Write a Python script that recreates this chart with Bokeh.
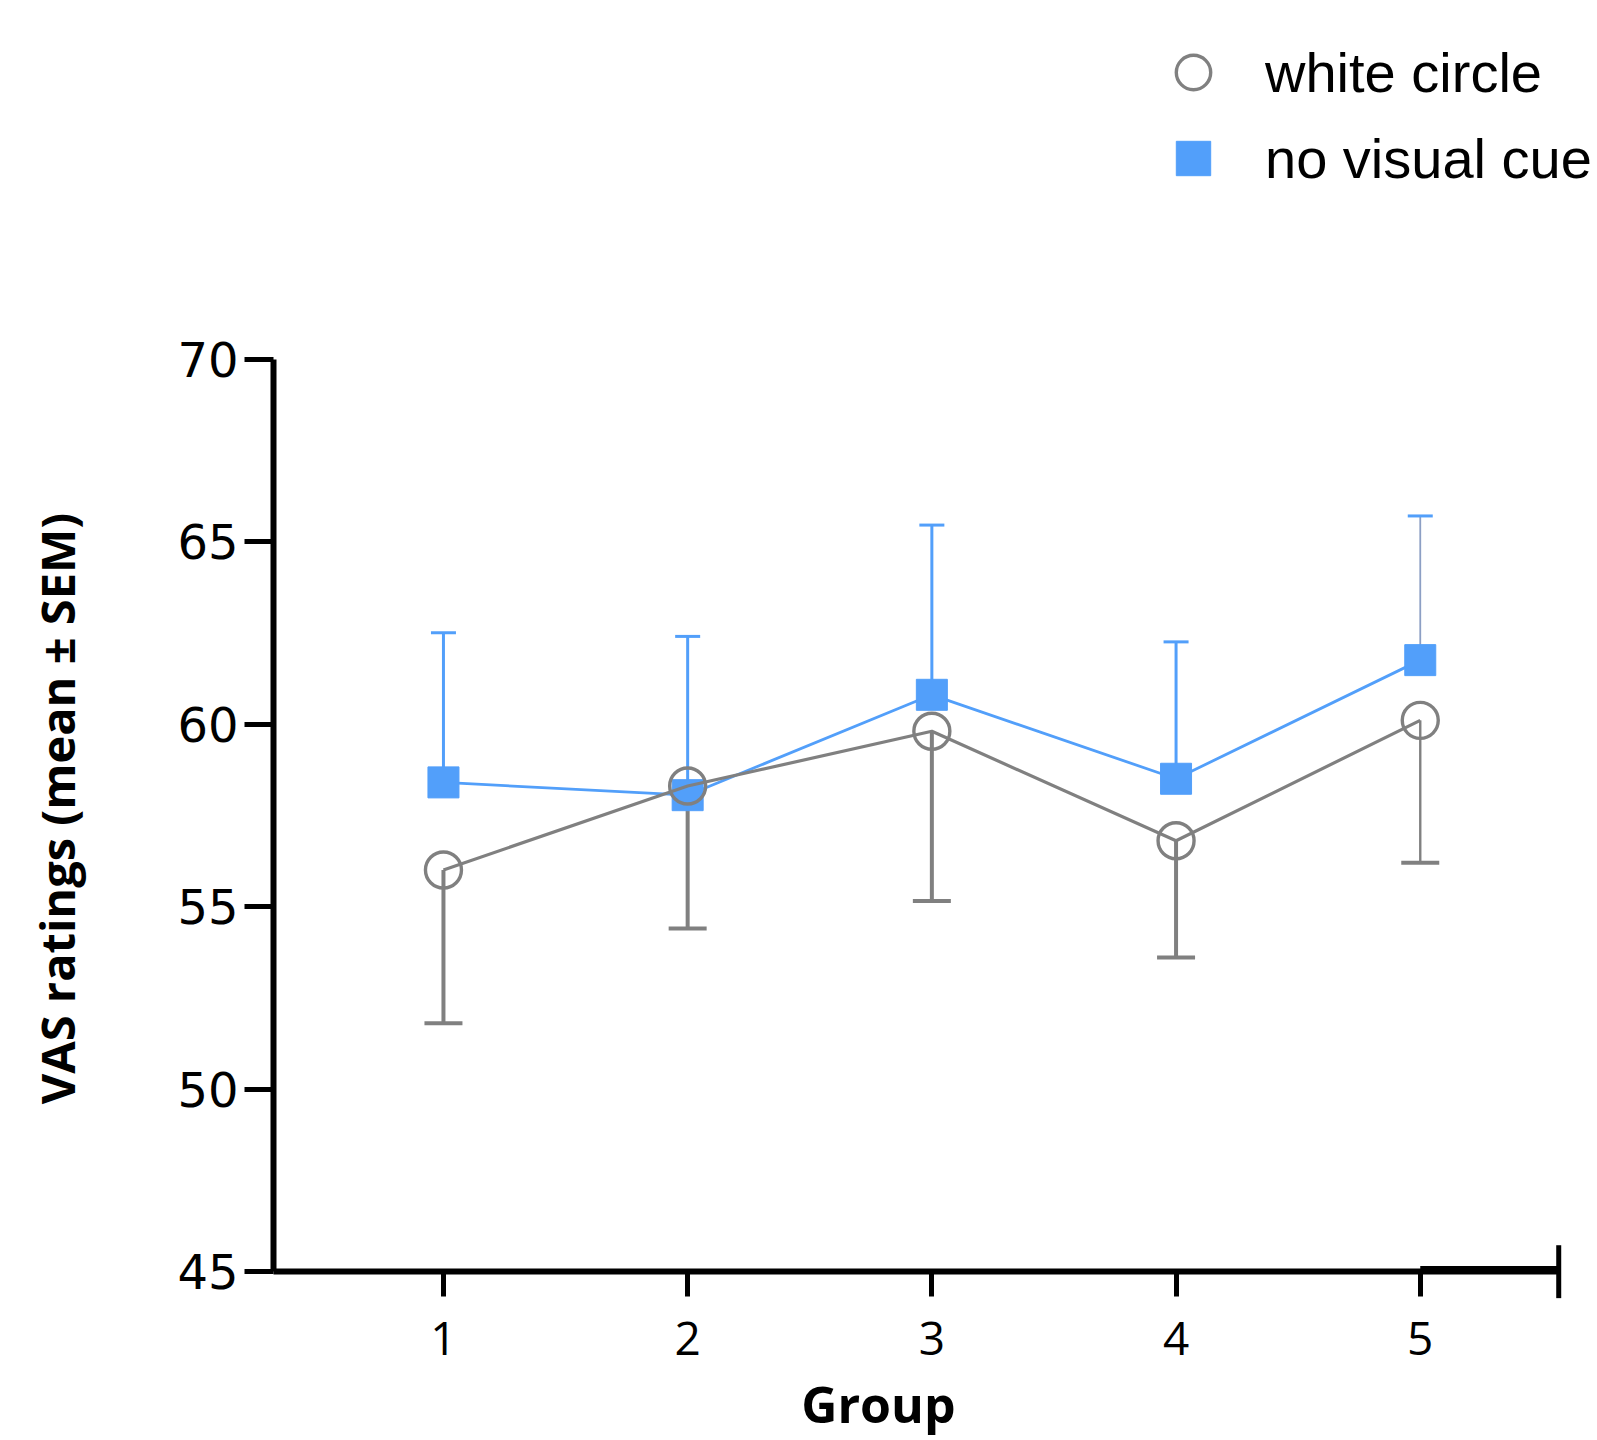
import math
from bokeh.plotting import figure
from bokeh.models import (Range1d, FixedTicker, Whisker, TeeHead, ColumnDataSource,
                          Legend, LegendItem, Label, Arrow)
from bokeh.embed import file_html
from bokeh.resources import INLINE

# ---- data ----
groups = [1, 2, 3, 4, 5]
white_mean = [56.0, 58.3, 59.8, 56.8, 60.1]
white_sem = [4.2, 3.9, 4.65, 3.2, 3.9]
blue_mean = [58.4, 58.05, 60.8, 58.5, 61.75]
blue_sem = [4.1, 4.35, 4.65, 3.75, 3.95]
y_ticks = [45, 50, 55, 60, 65, 70]
x_ticks = [1, 2, 3, 4, 5]
series_names = ["white circle", "no visual cue"]
x_title = "Group"
y_title = "VAS ratings (mean \u00b1 SEM)"

GRAY = "#808080"
BLUE = "#529ffa"

white_src = ColumnDataSource(dict(
    x=groups, mean=white_mean,
    lo=[m - s for m, s in zip(white_mean, white_sem)],
    stem_w=[4, 4, 4, 4, 2.4],
))
blue_src = ColumnDataSource(dict(
    x=groups, mean=blue_mean,
    hi=[m + s for m, s in zip(blue_mean, blue_sem)],
    stem_w=[3, 3, 3, 3, 1.8],
    stem_c=[BLUE, BLUE, BLUE, BLUE, "#8c9fc4"],
))

X0, X1 = 0.304, 5.567   # axis extents
p = figure(frame_width=1597, frame_height=1440,
           x_range=Range1d(-0.8139, 5.7258), y_range=Range1d(40.370, 79.822),
           min_border_left=0, min_border_right=0, min_border_top=0, min_border_bottom=0,
           output_backend="svg", toolbar_location=None)
p.outline_line_color = None
p.xgrid.visible = False
p.ygrid.visible = False
p.background_fill_color = "white"
p.border_fill_color = "white"

# axes
for ax in (p.xaxis[0], p.yaxis[0]):
    ax.axis_line_width = 6
    ax.axis_line_color = "black"
    ax.major_tick_line_width = 5
    ax.major_tick_line_color = "black"
    ax.major_tick_in = 0
    ax.minor_tick_line_color = None
    ax.major_label_text_color = "black"

p.yaxis[0].fixed_location = X0
p.yaxis[0].ticker = FixedTicker(ticks=y_ticks)
p.yaxis[0].bounds = (45, 70)
p.yaxis[0].major_tick_out = 29
p.yaxis[0].major_label_standoff = 6
p.yaxis[0].major_label_text_font = "DejaVu Sans"
p.yaxis[0].major_label_text_font_size = "48px"

p.xaxis[0].fixed_location = 45
p.xaxis[0].ticker = FixedTicker(ticks=x_ticks)
p.xaxis[0].bounds = (X0, X1)
p.xaxis[0].major_tick_out = 25
p.xaxis[0].major_label_standoff = 25
p.xaxis[0].major_label_text_font = "Open Sans"
p.xaxis[0].major_label_text_font_size = "46px"

# axis end decoration (thicker end segment and closing tick)
p.add_layout(Arrow(end=None, x_start=5, y_start=45.04, x_end=X1, y_end=45.04,
                   line_width=8, line_color="black"))
p.add_layout(Arrow(end=None, x_start=X1, y_start=45.72, x_end=X1, y_end=44.27,
                   line_width=5, line_color="black"))

# blue series: upper SEM only
p.add_layout(Whisker(source=blue_src, base="x", lower="mean", upper="hi",
                     lower_head=None,
                     upper_head=TeeHead(size=25, line_color=BLUE, line_width=3),
                     line_color="stem_c", line_width="stem_w"))
p.line("x", "mean", source=blue_src, line_color=BLUE, line_width=2.8)
blue_r = p.scatter("x", "mean", source=blue_src, marker="square", size=31,
                   fill_color=BLUE, line_color=BLUE, line_width=1)

# gray series: lower SEM only
p.add_layout(Whisker(source=white_src, base="x", lower="lo", upper="mean",
                     upper_head=None,
                     lower_head=TeeHead(size=38, line_color=GRAY, line_width=4),
                     line_color=GRAY, line_width="stem_w"))
p.line("x", "mean", source=white_src, line_color=GRAY, line_width=3.2)
white_r = p.scatter("x", "mean", source=white_src, marker="circle", size=36,
                    fill_alpha=0, line_color=GRAY, line_width=3.4)

legend = Legend(items=[LegendItem(label=series_names[0], renderers=[white_r]),
                       LegendItem(label=series_names[1], renderers=[blue_r])],
                location=(1150, 1239), orientation="vertical",
                glyph_width=86, glyph_height=86, label_height=86, label_standoff=29,
                spacing=0, padding=0, margin=0,
                border_line_color=None, background_fill_alpha=0,
                label_text_font="Liberation Sans", label_text_font_size="56px",
                label_text_color="black")
p.add_layout(legend)

# axis titles
p.add_layout(Label(x=-0.581, y=57.685, text=y_title, angle=math.pi / 2,
                   text_align="center", text_baseline="middle",
                   text_font="Open Sans", text_font_style="bold",
                   text_font_size="47px", text_color="black"))
p.add_layout(Label(x=2.781, y=40.45, text=x_title,
                   text_align="center", text_baseline="bottom",
                   text_font="Open Sans", text_font_style="bold",
                   text_font_size="50px", text_color="black"))

open("out.html", "w").write(file_html(p, INLINE))
